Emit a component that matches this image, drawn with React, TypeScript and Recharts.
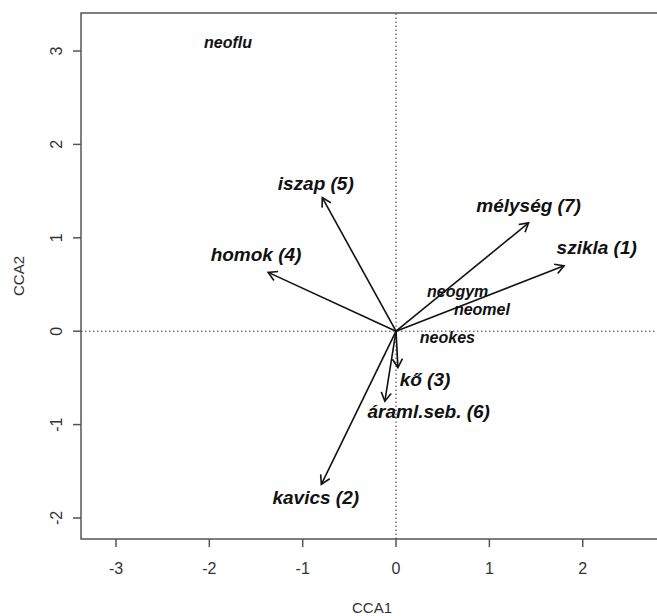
import { ScatterChart, Scatter, XAxis, YAxis, ReferenceLine, ReferenceArea } from 'recharts';

// environmental variables (arrow tips + label positions)
const envNames = ['szikla (1)', 'kavics (2)', 'kő (3)', 'homok (4)', 'iszap (5)', 'áraml.seb. (6)', 'mélység (7)'];
const envX = [1.8, -0.8, 0.02, -1.37, -0.79, -0.12, 1.42];
const envY = [0.7, -1.64, -0.39, 0.63, 1.43, -0.75, 1.16];
const envLabelX = [2.15, -0.86, 0.31, -1.5, -0.86, 0.35, 1.42];
const envLabelY = [0.9, -1.78, -0.52, 0.82, 1.58, -0.86, 1.35];

// species scores
const speciesNames = ['neoflu', 'neogym', 'neomel', 'neokes'];
const speciesX = [-1.8, 0.66, 0.92, 0.55];
const speciesY = [3.09, 0.42, 0.23, -0.07];

const xTicks = [-3, -2, -1, 0, 1, 2];
const yTicks = [-2, -1, 0, 1, 2, 3];
const xDomain = [-3.375, 2.86];
const yDomain = [-2.225, 3.407];

const FONT = '"Liberation Sans", Arial, Helvetica, sans-serif';

const envLabels = envNames.map((name, i) => ({ name, x: envLabelX[i], y: envLabelY[i] }));
const speciesLabels = speciesNames.map((name, i) => ({ name, x: speciesX[i], y: speciesY[i] }));

const Arrow = (props: any) => {
  const { x1, y1, x2, y2 } = props;
  const ang = Math.atan2(y2 - y1, x2 - x1);
  const len = 10;
  const spread = Math.PI / 6;
  const ax = x2 - len * Math.cos(ang - spread);
  const ay = y2 - len * Math.sin(ang - spread);
  const bx = x2 - len * Math.cos(ang + spread);
  const by = y2 - len * Math.sin(ang + spread);
  return (
    <g stroke="#111" strokeWidth={1.6} fill="none">
      <line x1={x1} y1={y1} x2={x2} y2={y2} />
      <polyline points={`${ax},${ay} ${x2},${y2} ${bx},${by}`} />
    </g>
  );
};

const labelShape = (size: number) => (props: any) => {
  const { cx, cy, payload } = props;
  return (
    <text
      x={cx}
      y={cy}
      textAnchor="middle"
      dominantBaseline="central"
      fontFamily={FONT}
      fontStyle="italic"
      fontWeight="bold"
      fontSize={size}
      fill="#111"
    >
      {payload.name}
    </text>
  );
};

const YTick = (props: any) => {
  const { y, payload } = props;
  const bx = 62;
  return (
    <text
      x={bx}
      y={y}
      transform={`rotate(-90, ${bx}, ${y})`}
      textAnchor="middle"
      fontFamily={FONT}
      fontSize={16}
      fill="#333"
    >
      {payload.value}
    </text>
  );
};

export default function App() {
  return (
    <div style={{ position: 'absolute', left: 0, top: 0, width: 657, height: 616, overflow: 'hidden', background: '#fff' }}>
      <ScatterChart width={670} height={616} margin={{ top: 13, right: 7, bottom: 0, left: 0 }}>
        <XAxis
          type="number"
          dataKey="x"
          domain={xDomain}
          ticks={xTicks}
          allowDataOverflow
          axisLine={false}
          tickLine={{ stroke: '#555', strokeWidth: 1.5 }}
          tickSize={8}
          tickMargin={16}
          height={77}
          tick={{ fontFamily: FONT, fontSize: 16, fill: '#333' }}
          label={(p: any) => {
            const vb = p.viewBox;
            return (
              <text x={vb.x + vb.width / 2} y={vb.y + vb.height - 3} textAnchor="middle" fontFamily={FONT} fontSize={15} fill="#333">
                CCA1
              </text>
            );
          }}
        />
        <YAxis
          type="number"
          dataKey="y"
          domain={yDomain}
          ticks={yTicks}
          allowDataOverflow
          axisLine={false}
          tickLine={{ stroke: '#555', strokeWidth: 1.5 }}
          tickSize={8}
          width={81}
          tick={<YTick />}
          label={(p: any) => {
            const vb = p.viewBox;
            const cx = 23.5;
            const cy = vb.y + vb.height / 2;
            return (
              <text x={cx} y={cy} transform={`rotate(-90, ${cx}, ${cy})`} textAnchor="middle" fontFamily={FONT} fontSize={15} fill="#333">
                CCA2
              </text>
            );
          }}
        />
        <ReferenceArea
          x1={xDomain[0]}
          x2={xDomain[1]}
          y1={yDomain[0]}
          y2={yDomain[1]}
          fill="none"
          fillOpacity={0}
          stroke="#555"
          strokeWidth={1.5}
          ifOverflow="visible"
        />
        <ReferenceLine x={0} stroke="#333" strokeDasharray="1.5 2.5" />
        <ReferenceLine y={0} stroke="#333" strokeDasharray="1.5 2.5" />
        {envNames.map((name, i) => (
          <ReferenceLine
            key={name}
            segment={[
              { x: 0, y: 0 },
              { x: envX[i], y: envY[i] },
            ]}
            shape={Arrow}
          />
        ))}
        <Scatter data={envLabels} shape={labelShape(19)} isAnimationActive={false} />
        <Scatter data={speciesLabels} shape={labelShape(16)} isAnimationActive={false} />
      </ScatterChart>
    </div>
  );
}
